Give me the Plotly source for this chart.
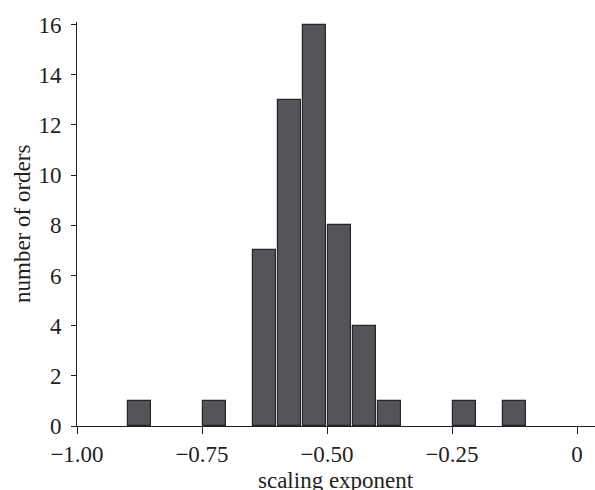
import plotly.graph_objects as go

bin_centers = [-0.875, -0.725, -0.625, -0.575, -0.525, -0.475, -0.425, -0.375, -0.225, -0.125]
counts = [1, 1, 7, 13, 16, 8, 4, 1, 1, 1]
bin_width = 0.05
x_tick_vals = [-1.0, -0.75, -0.5, -0.25, 0]
x_tick_text = ["\u22121.00", "\u22120.75", "\u22120.50", "\u22120.25", "0"]
y_tick_vals = [0, 2, 4, 6, 8, 10, 12, 14, 16]
x_title = "scaling exponent"
y_title = "number of orders"

font_family = "Liberation Serif, Times New Roman, serif"
ink = "#231f20"

fig = go.Figure()
fig.add_trace(go.Bar(
    x=bin_centers,
    y=counts,
    width=[bin_width * 0.94] * len(counts),
    marker=dict(color="#545559", line=dict(color="#262626", width=1.2)),
    showlegend=False,
))

fig.update_layout(
    width=595, height=490,
    margin=dict(l=77, r=0, t=22, b=64, autoexpand=False),
    paper_bgcolor="white", plot_bgcolor="white",
    font=dict(family=font_family, size=23, color=ink),
    xaxis=dict(
        range=[-1.0, 0.036],
        tickvals=x_tick_vals, ticktext=x_tick_text,
        showline=True, linecolor=ink, linewidth=1,
        ticks="outside", ticklen=7, tickcolor=ink, tickwidth=1,
        showgrid=False, zeroline=False, automargin=False,
        tickfont=dict(size=23),
    ),
    yaxis=dict(
        range=[0, 16.1],
        tickvals=y_tick_vals,
        showline=True, linecolor=ink, linewidth=1,
        ticks="outside", ticklen=5, tickcolor=ink, tickwidth=1,
        showgrid=False, zeroline=False, automargin=False,
        tickfont=dict(size=23), ticklabelstandoff=5,
    ),
    bargap=0,
    annotations=[
        dict(text=x_title, xref="paper", yref="paper", x=0.5, y=0,
             xanchor="center", yanchor="middle", yshift=-54, showarrow=False,
             font=dict(size=23)),
        dict(text=y_title, xref="paper", yref="paper", x=0, y=0.5,
             xanchor="center", yanchor="middle", xshift=-55, textangle=-90,
             showarrow=False, font=dict(size=23)),
    ],
)

fig.write_html(
    "out.html",
    config={"displayModeBar": False},
    post_script="document.body.style.margin='0';document.body.style.overflow='hidden';",
)
